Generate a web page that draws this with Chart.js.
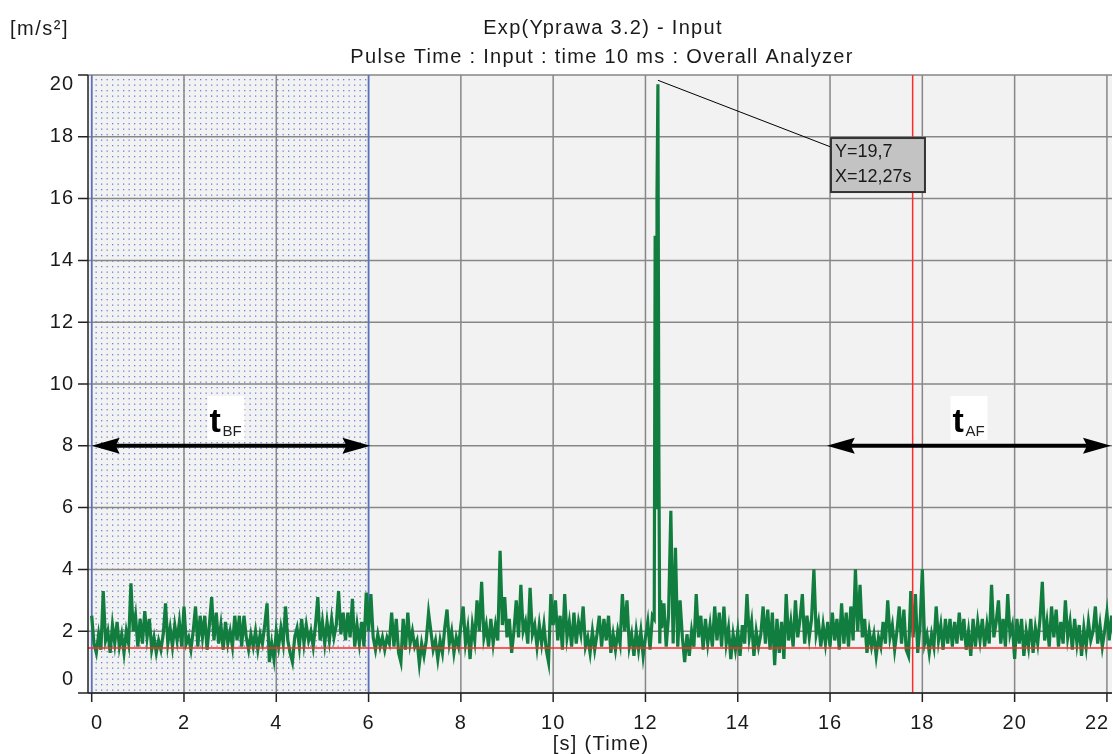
<!DOCTYPE html>
<html>
<head>
<meta charset="utf-8">
<title>Exp(Yprawa 3.2) - Input</title>
<script src="https://cdn.jsdelivr.net/npm/chart.js@4.4.0/dist/chart.umd.min.js"></script>
<style>
  html, body { margin: 0; padding: 0; background: #fff; }
  #wrap { width: 1113px; height: 754px; }
</style>
</head>
<body>
<div id="wrap"><canvas id="accChart" width="1113" height="754"></canvas></div>
<script>
const chartTitle = "Exp(Yprawa 3.2) - Input";
const chartSubtitle = "Pulse Time : Input : time 10 ms : Overall Analyzer";
const yUnit = "[m/s²]";
const xTitle = "[s] (Time)";
const xTicks = [0, 2, 4, 6, 8, 10, 12, 14, 16, 18, 20, 22];
const yTicks = [0, 2, 4, 6, 8, 10, 12, 14, 16, 18, 20];

// acceleration, one row per second, 0.05 s apart
const timeStep = 0.05;
const signalRows = [
  [2.5,1.6,1.3,1.9,1.4,3.3,1.7,2.0,1.3,2.2,1.6,2.3,1.5,1.9,1.3,2.0,1.6,3.55,2.0,2.5],
  [1.5,2.4,1.6,2.65,1.8,2.4,1.4,1.8,1.3,1.7,1.4,1.9,2.9,1.6,2.1,1.5,2.2,1.7,2.3,1.5],
  [2.8,1.6,1.8,1.4,2.0,2.8,1.5,2.5,1.8,2.5,1.4,2.2,3.1,1.7,2.6,1.6,2.2,1.4,2.3,1.6],
  [2.0,1.5,2.5,1.7,2.5,1.5,2.5,1.8,1.4,1.9,1.5,2.0,1.4,1.9,1.6,2.2,2.9,1.0,1.6,1.1],
  [2.0,1.5,2.1,1.6,2.8,1.7,1.3,1.0,1.8,2.1,1.5,2.4,1.6,2.2,1.7,2.0,1.5,2.2,3.1,1.7],
  [2.3,1.6,2.3,1.7,2.4,1.8,2.2,3.3,1.9,2.6,1.7,2.6,1.8,3.05,1.5,2.2,1.6,2.3,1.5,3.25],
  [2.0,3.2,1.8,1.4,1.9,1.5,1.8,1.4,1.8,1.6,2.6,1.5,2.4,1.3,1.0,2.4,1.4,2.6,1.6,2.0],
  [1.5,1.7,0.95,1.6,1.2,1.7,2.6,2.0,1.4,1.7,1.1,1.7,1.3,2.1,2.7,1.6,2.0,1.3,1.8,1.5],
  [2.2,2.8,1.6,2.1,1.1,2.2,1.7,3.0,2.0,3.6,1.8,2.2,1.5,2.4,1.6,2.2,1.7,4.6,2.2,3.1],
  [1.8,2.4,1.3,2.0,3.0,1.8,3.5,2.0,2.3,1.6,3.4,1.9,2.2,1.5,2.2,1.6,2.2,1.4,1.0,3.2],
  [2.2,3.0,1.7,2.5,1.4,3.2,1.8,2.3,1.5,2.6,1.6,2.3,1.9,2.8,1.5,1.8,1.3,2.0,1.4,1.9],
  [2.5,1.5,2.4,1.7,2.5,1.3,1.9,1.4,2.0,1.6,3.2,2.0,3.0,1.5,1.9,1.2,2.0,1.4,2.0,1.2],
  [1.8,2.3,1.4,2.5,2.4,2.6,1.6,2.2,2.9,1.5,2.5,5.9,1.6,4.7,1.5,3.0,1.8,1.0,1.9,1.2],
  [2.0,1.5,3.2,1.8,2.5,1.4,2.4,1.6,2.2,1.5,2.8,1.7,2.6,1.5,2.8,1.6,2.1,1.1,1.9,1.4],
  [2.0,1.2,2.2,1.6,3.2,1.8,2.3,1.2,2.0,1.5,1.9,2.8,1.6,2.7,1.4,2.6,0.9,2.4,1.3,2.3],
  [1.1,3.2,1.7,2.3,1.5,3.0,1.8,2.4,3.2,1.6,2.5,1.8,2.4,4.0,1.9,2.3,1.5,2.2,1.6,2.3],
  [1.5,2.6,1.7,2.4,1.4,2.9,1.6,2.6,1.5,2.8,1.7,4.0,2.0,3.5,1.8,2.4,1.3,2.0,1.5,1.9],
  [1.2,1.8,1.5,2.3,1.6,3.0,1.8,2.2,1.4,2.0,2.8,1.6,2.7,1.4,1.2,3.3,1.8,3.2,1.3,2.2],
  [4.0,1.6,1.9,1.3,1.9,1.5,2.8,1.7,2.2,1.4,2.4,1.6,2.4,1.5,2.3,1.6,2.6,1.7,2.4,1.4],
  [2.0,1.2,2.4,1.5,2.3,1.7,2.4,1.5,2.2,1.6,3.5,1.8,2.3,3.0,1.6,2.4,1.5,3.2,1.9,2.2],
  [1.1,2.4,1.6,2.4,1.2,2.0,1.5,2.4,1.3,2.1,1.6,2.4,3.6,1.7,2.3,1.5,2.8,1.8,2.7,1.5],
  [2.3,1.6,3.0,1.8,2.3,1.4,2.4,1.6,2.2,1.2,2.1,1.5,2.3,1.7,2.0,2.8,1.6,2.2,1.5,2.0],
  [2.6,1.7,2.5,1.8]
];
// the pulse itself, sampled finer
const peakTime = [12.19, 12.21, 12.23, 12.25, 12.27, 12.29, 12.31, 12.33, 12.35];
const peakValue = [2.4, 14.8, 6.0, 16.1, 19.7, 8.0, 1.6, 3.0, 2.1];

const windowBF = [0, 6];
const arrowY = 8;
const arrowFrom = [0, 15.93];
const arrowTo = [6.04, 22.12];
const arrowSub = ["BF", "AF"];
const arrowLabelX = [2.9, 19.0];
const arrowLabelY = 8.9;
const cursorX = 17.79;
const baselineY = 1.46;
const markerPoint = [12.27, 19.7];
const markerBox = [16.02, 17.96];
const markerText = ["Y=19,7", "X=12,27s"];

const FONT = '"Liberation Sans", Arial, sans-serif';

const points = [];
signalRows.flat().forEach((v, i) => {
  const t = +(i * timeStep).toFixed(2);
  if (t < peakTime[0] || t > peakTime[peakTime.length - 1]) points.push({ x: t, y: v });
});
peakTime.forEach((t, i) => points.push({ x: t, y: peakValue[i] }));
points.sort((p, q) => p.x - q.x);

function dotPattern(ctx) {
  const c = document.createElement("canvas");
  c.width = 11; c.height = 11;
  const g = c.getContext("2d");
  g.fillStyle = "#f2f2f2";
  g.fillRect(0, 0, 11, 11);
  g.fillStyle = "#6a84d4";
  [[2, 2], [7.5, 2], [2, 7.5], [7.5, 7.5]].forEach(([px, py]) => {
    g.fillRect(px, py, 1.3, 1.3);
  });
  return ctx.createPattern(c, "repeat");
}

function drawArrow(ctx, xa, xb, py) {
  const head = 28, half = 8;
  ctx.strokeStyle = "#000";
  ctx.fillStyle = "#000";
  ctx.lineWidth = 4;
  ctx.beginPath();
  ctx.moveTo(xa + 10, py);
  ctx.lineTo(xb - 10, py);
  ctx.stroke();
  ctx.beginPath();
  ctx.moveTo(xa, py);
  ctx.lineTo(xa + head, py - half);
  ctx.lineTo(xa + head - 4, py);
  ctx.lineTo(xa + head, py + half);
  ctx.closePath();
  ctx.fill();
  ctx.beginPath();
  ctx.moveTo(xb, py);
  ctx.lineTo(xb - head, py - half);
  ctx.lineTo(xb - head + 4, py);
  ctx.lineTo(xb - head, py + half);
  ctx.closePath();
  ctx.fill();
}

const decor = {
  id: "decor",
  beforeDatasetsDraw(chart) {
    const { ctx, chartArea: a, scales: { x, y } } = chart;
    ctx.save();
    ctx.fillStyle = "#f2f2f2";
    ctx.fillRect(a.left, a.top, a.right - a.left, a.bottom - a.top);

    const w0 = x.getPixelForValue(windowBF[0]);
    const w1 = x.getPixelForValue(windowBF[1]);
    ctx.fillStyle = dotPattern(ctx);
    ctx.fillRect(w0, a.top, w1 - w0, a.bottom - a.top);

    ctx.strokeStyle = "#878787";
    ctx.lineWidth = 1.5;
    ctx.beginPath();
    xTicks.forEach(v => {
      const px = x.getPixelForValue(v);
      ctx.moveTo(px, a.top);
      ctx.lineTo(px, a.bottom);
    });
    yTicks.forEach(v => {
      const py = y.getPixelForValue(v);
      ctx.moveTo(a.left, py);
      ctx.lineTo(a.right, py);
    });
    ctx.stroke();

    ctx.strokeStyle = "#5670c8";
    ctx.lineWidth = 1.5;
    ctx.beginPath();
    [w0, w1].forEach(px => { ctx.moveTo(px, a.top); ctx.lineTo(px, a.bottom); });
    ctx.stroke();
    ctx.restore();
  },
  afterDatasetsDraw(chart) {
    const { ctx, chartArea: a, scales: { x, y } } = chart;
    ctx.save();

    // cursor and baseline
    ctx.strokeStyle = "#ff2a2a";
    ctx.lineWidth = 1.5;
    ctx.beginPath();
    const cx = x.getPixelForValue(cursorX);
    ctx.moveTo(cx, a.top); ctx.lineTo(cx, a.bottom);
    const by = y.getPixelForValue(baselineY);
    ctx.moveTo(a.left, by); ctx.lineTo(a.right, by);
    ctx.stroke();

    // time windows
    const ay = y.getPixelForValue(arrowY);
    arrowFrom.forEach((v, i) => {
      drawArrow(ctx, x.getPixelForValue(v), Math.min(x.getPixelForValue(arrowTo[i]), a.right - 1), ay);
      const lx = x.getPixelForValue(arrowLabelX[i]);
      const ly = y.getPixelForValue(arrowLabelY);
      ctx.fillStyle = "#fff";
      ctx.fillRect(lx - 18, ly - 22, 37, 44);
      ctx.fillStyle = "#000";
      ctx.textBaseline = "alphabetic";
      ctx.textAlign = "left";
      ctx.font = "bold 34px " + FONT;
      ctx.fillText("t", lx - 16, ly + 14);
      ctx.fillStyle = "#222";
      ctx.font = "15px " + FONT;
      ctx.fillText(arrowSub[i], lx - 3, ly + 18);
    });

    // peak marker
    const mx = x.getPixelForValue(markerPoint[0]);
    const my = y.getPixelForValue(markerPoint[1]);
    const bx = x.getPixelForValue(markerBox[0]);
    const bt = y.getPixelForValue(markerBox[1]);
    ctx.strokeStyle = "#000";
    ctx.lineWidth = 1;
    ctx.beginPath();
    ctx.moveTo(mx, my - 4);
    ctx.lineTo(bx, bt + 9);
    ctx.stroke();
    ctx.fillStyle = "#c3c3c3";
    ctx.fillRect(bx, bt, 94, 54);
    ctx.strokeStyle = "#333";
    ctx.lineWidth = 2;
    ctx.strokeRect(bx, bt, 94, 54);
    ctx.fillStyle = "#1a1a1a";
    ctx.font = "18px " + FONT;
    ctx.textBaseline = "middle";
    ctx.fillText(markerText[0], bx + 4, bt + 14);
    ctx.fillText(markerText[1], bx + 4, bt + 39);

    // axes
    ctx.strokeStyle = "#222";
    ctx.lineWidth = 1.5;
    ctx.beginPath();
    ctx.moveTo(a.left, a.top); ctx.lineTo(a.left, a.bottom);
    ctx.moveTo(a.left, a.bottom); ctx.lineTo(a.right, a.bottom);
    yTicks.forEach(v => {
      const py = y.getPixelForValue(v);
      ctx.moveTo(a.left - 10, py); ctx.lineTo(a.left, py);
    });
    xTicks.forEach(v => {
      const px = x.getPixelForValue(v);
      ctx.moveTo(px, a.bottom); ctx.lineTo(px, a.bottom + 9);
    });
    ctx.stroke();

    ctx.fillStyle = "#1a1a1a";
    ctx.font = "20px " + FONT;
    ctx.letterSpacing = "1px";
    ctx.textBaseline = "middle";
    ctx.textAlign = "right";
    yTicks.forEach(v => {
      const py = Math.min(Math.max(y.getPixelForValue(v), a.top + 9), a.bottom - 14);
      ctx.fillText(String(v), a.left - 14, py);
    });
    ctx.textAlign = "center";
    xTicks.forEach(v => {
      const px = Math.min(Math.max(x.getPixelForValue(v), a.left + 9), a.right - 15);
      ctx.fillText(String(v), px, a.bottom + 30);
    });

    // titles
    const mid = (a.left + a.right) / 2;
    ctx.letterSpacing = "1.3px";
    ctx.fillText(chartTitle, mid + 3, 28);
    ctx.fillText(chartSubtitle, mid + 2, 57);
    ctx.fillText(xTitle, mid + 1, 744);
    ctx.textAlign = "left";
    ctx.letterSpacing = "1.5px";
    ctx.fillText(yUnit, 10, 29);
    ctx.restore();
  }
};

new Chart(document.getElementById("accChart"), {
  type: "line",
  data: {
    datasets: [{
      label: "Input",
      data: points,
      borderColor: "#117d3e",
      borderWidth: 3.2,
      pointRadius: 0,
      tension: 0
    }]
  },
  options: {
    responsive: false,
    animation: false,
    layout: { padding: { left: 88, right: 1, top: 75, bottom: 61 } },
    plugins: { legend: { display: false }, tooltip: { enabled: false } },
    scales: {
      x: { type: "linear", min: -0.08, max: 22.11, display: false },
      y: { type: "linear", min: 0, max: 20, display: false }
    }
  },
  plugins: [decor]
});
</script>
</body>
</html>
